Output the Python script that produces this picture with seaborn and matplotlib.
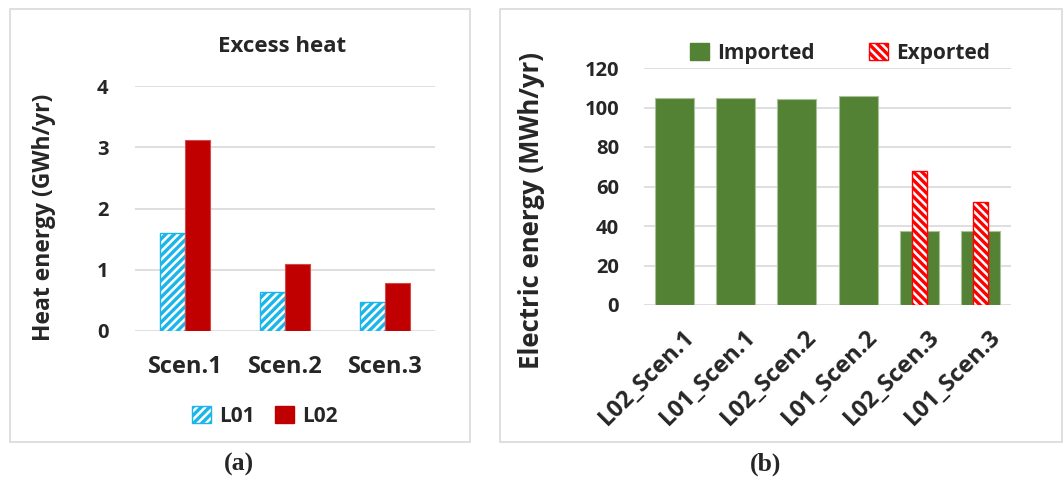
import matplotlib
matplotlib.use("Agg")
import matplotlib.pyplot as plt
import matplotlib.transforms as mtrans
import seaborn as sns
import pandas as pd
from matplotlib.patches import Patch, Rectangle

# ---- data ----
scenarios = ["Scen.1", "Scen.2", "Scen.3"]
heat_L01 = [1.60, 0.64, 0.48]
heat_L02 = [3.12, 1.09, 0.78]
heat_ticks = [0, 1, 2, 3, 4]

elec_cats = ["L02_Scen.1", "L01_Scen.1", "L02_Scen.2", "L01_Scen.2", "L02_Scen.3", "L01_Scen.3"]
imported = [104.8, 104.8, 104.3, 106.0, 37.5, 37.3]
exported_cats = ["L02_Scen.3", "L01_Scen.3"]
exported = [67.8, 52.3]
elec_ticks = [0, 20, 40, 60, 80, 100, 120]

sns.set_theme(style="white")
plt.rcParams['font.family'] = ['Open Sans', 'DejaVu Sans']
plt.rcParams['font.weight'] = 'bold'
plt.rcParams['hatch.linewidth'] = 2.4

W, H = 1064, 480
fig = plt.figure(figsize=(W / 100, H / 100), dpi=100)
fig.patch.set_facecolor('white')

def fr(x0, y0, x1, y1):
    return [x0 / W, 1 - y1 / H, (x1 - x0) / W, (y1 - y0) / H]

# panel frames
for (x0, y0, x1, y1) in [(10, 9, 470, 442), (500, 9, 1062, 442)]:
    fig.patches.append(Rectangle((x0 / W, 1 - y1 / H), (x1 - x0) / W, (y1 - y0) / H,
                                 transform=fig.transFigure, fill=False,
                                 edgecolor='#D9D9D9', linewidth=1.2))

GRID = '#D9D9D9'
BLUE = '#1CB5EA'
DRED = '#C00000'
GREEN = '#548235'
RED = '#FF0000'
YT = 14.5

def style_axes(ax, ticks):
    for s in ax.spines.values():
        s.set_visible(False)
    ax.set_yticks(ticks)
    ax.yaxis.grid(True, color=GRID, linewidth=1.2)
    ax.set_axisbelow(True)
    ax.tick_params(axis='both', length=0)
    ax.set_xlabel('')

# ---- panel (a) ----
ax1 = fig.add_axes(fr(135, 86, 435, 331))
df_heat = pd.DataFrame({
    'Scenario': scenarios * 2,
    'Line': ['L01'] * 3 + ['L02'] * 3,
    'Value': heat_L01 + heat_L02,
})
sns.barplot(data=df_heat, x='Scenario', y='Value', hue='Line', hue_order=['L01', 'L02'],
            order=scenarios, palette={'L01': 'white', 'L02': DRED}, width=0.5,
            saturation=1, legend=False, ax=ax1, errorbar=None)
for p in ax1.containers[0]:
    p.set_facecolor('white')
    p.set_edgecolor(BLUE)
    p.set_hatch('////')
    p.set_linewidth(1.0)
for p in ax1.containers[1]:
    p.set_edgecolor('#D24A4A')
    p.set_linewidth(0.8)
ax1.set_ylim(0, 4)
ax1.set_xlim(-0.5, 2.5)
style_axes(ax1, heat_ticks)
ax1.tick_params(axis='y', pad=19, labelsize=YT)
ax1.tick_params(axis='x', pad=17, labelsize=17)
ax1.set_ylabel('Heat energy (GWh/yr)', fontsize=16.5, fontweight='bold')
ax1.yaxis.set_label_coords(-0.262, 0.465)
fig.text(282 / W, 1 - 46 / H, 'Excess heat', ha='center', va='center',
         fontsize=16, fontweight='bold')
h1 = [Patch(facecolor='white', edgecolor=BLUE, hatch='////', linewidth=1.0),
      Patch(facecolor=DRED, edgecolor=DRED)]
fig.legend(h1, ['L01', 'L02'], loc='center', bbox_to_anchor=(265 / W, 1 - 416 / H),
           ncol=2, frameon=False, handlelength=0.9, handleheight=0.9,
           handletextpad=0.4, columnspacing=1.0, prop={'weight': 'bold', 'size': 15})

# ---- panel (b) ----
ax2 = fig.add_axes(fr(644, 68, 1011, 305))
df_imp = pd.DataFrame({'Case': elec_cats, 'Value': imported})
df_exp = pd.DataFrame({'Case': exported_cats, 'Value': exported})
sns.barplot(data=df_imp, x='Case', y='Value', order=elec_cats, color=GREEN,
            saturation=1, width=0.64, ax=ax2, errorbar=None)
n_imp = len(ax2.patches)
for p in ax2.patches[:n_imp]:
    p.set_edgecolor('#A9C29A')
    p.set_linewidth(0.8)
sns.barplot(data=df_exp, x='Case', y='Value', order=elec_cats, color='white',
            saturation=1, width=0.24, ax=ax2, errorbar=None)
for p in ax2.patches[n_imp:]:
    p.set_facecolor('white')
    p.set_edgecolor(RED)
    p.set_hatch('\\\\\\\\')
    p.set_linewidth(1.0)
ax2.set_ylim(0, 120)
ax2.set_xlim(-0.5, 5.5)
style_axes(ax2, elec_ticks)
ax2.tick_params(axis='y', pad=18, labelsize=YT)
ax2.tick_params(axis='x', pad=2, labelsize=17)
ax2.set_ylabel('Electric energy (MWh/yr)', fontsize=18.5, fontweight='bold')
ax2.yaxis.set_label_coords(-0.27, 0.40)
h2 = [Patch(facecolor=GREEN, edgecolor=GREEN),
      Patch(facecolor='white', edgecolor=RED, hatch='\\\\\\\\', linewidth=1.0)]
fig.legend(h2, ['Imported', 'Exported'], loc='center', bbox_to_anchor=(840 / W, 1 - 53 / H),
           ncol=2, frameon=False, handlelength=0.9, handleheight=0.9,
           handletextpad=0.4, columnspacing=2.6, prop={'weight': 'bold', 'size': 15})

for lbl in ax1.get_xticklabels() + ax1.get_yticklabels() + ax2.get_yticklabels():
    lbl.set_fontweight('bold')
offset = mtrans.ScaledTranslation(8 / 100, -17 / 100, fig.dpi_scale_trans)
for lbl in ax2.get_xticklabels():
    lbl.set_rotation(45)
    lbl.set_ha('right')
    lbl.set_rotation_mode('anchor')
    lbl.set_fontweight('bold')
    lbl.set_transform(lbl.get_transform() + offset)

# captions
fig.text(239 / W, 1 - 464 / H, '(a)', ha='center', va='center', fontsize=18.5,
         family='Liberation Serif', fontweight='bold')
fig.text(766 / W, 1 - 464 / H, '(b)', ha='center', va='center', fontsize=18.5,
         family='Liberation Serif', fontweight='bold')

fig.savefig('out.png', dpi=100)
